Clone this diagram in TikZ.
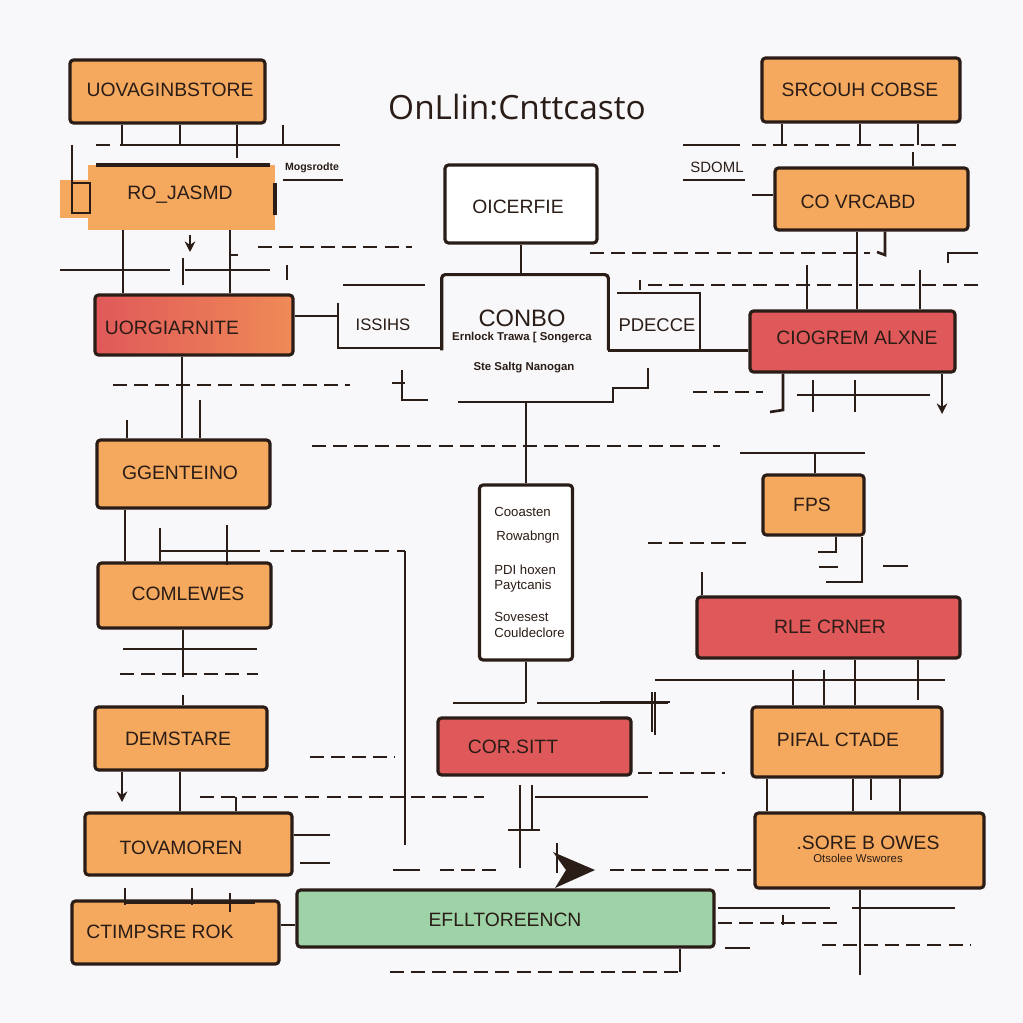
\documentclass[tikz,border=0pt]{standalone}
\usepackage{fontspec}
\setmainfont{Liberation Sans}
\newfontfamily\titlefont{Open Sans}
\usetikzlibrary{arrows.meta}
\definecolor{bg}{HTML}{F8F8FA}
\definecolor{ink}{HTML}{2A1C16}
\definecolor{orng}{HTML}{F5A95E}
\definecolor{rd}{HTML}{E0595A}
\definecolor{rdor}{HTML}{EF8A56}
\definecolor{grn}{HTML}{9DD3A6}
\begin{document}
\begin{tikzpicture}[x=0.02cm,y=-0.02cm,
 box/.style={draw=ink,line width=1.8pt,rounded corners=2pt,inner sep=0pt},
 obox/.style={box,fill=orng},
 rbox/.style={box,fill=rd},
 wbox/.style={box,fill=white},
 gbox/.style={box,fill=grn},
 lab/.style={text=ink,inner sep=0pt,font=\fontsize{11}{13}\selectfont},
 sm/.style={text=ink,inner sep=0pt,font=\fontsize{6.5}{8}\selectfont},
 ln/.style={draw=ink,line width=1.5pt},
 dl/.style={ln,dash pattern=on 8pt off 4pt},
 arr/.style={ln,-{Stealth[length=6pt,width=6pt]}},
]
\fill[bg] (0,0) rectangle (1023,1023);
\useasboundingbox (0,0) rectangle (1023,1023);

% ---------- title
\node[text=ink,inner sep=0pt,font=\titlefont\fontsize{19}{22}\selectfont] (title) at (517,107) {OnLlin:Cnttcasto};

% ---------- left column boxes
\node[obox,minimum width=3.9cm,minimum height=1.26cm] (b1) at (167.5,91.5) {};
\node[lab] (b1t) at (170,90) {UOVAGINBSTORE};

\fill[orng] (60,180) rectangle (92,218);
\node[fill=orng,inner sep=0pt,minimum width=3.74cm,minimum height=1.3cm] (b2) at (181.5,197.5) {};
\draw[ln,line width=1.8pt] (96,165) -- (270,165);
\draw[ln,line width=1.8pt] (275,183) -- (275,215);
\draw[ln] (72,183) rectangle (90,213);
\node[lab] (b2t) at (180,195) {RO\_JASMD};

\node[box,left color=rd,right color=rdor,minimum width=3.96cm,minimum height=1.2cm] (b3) at (194,325) {};
\node[lab] (b3t) at (172,328) {UORGIARNITE};

\node[obox,minimum width=3.46cm,minimum height=1.36cm] (b4) at (183.5,474) {};
\node[lab] (b4t) at (180,473) {GGENTEINO};

\node[obox,minimum width=3.46cm,minimum height=1.3cm] (b5) at (184.5,595.5) {};
\node[lab] (b5t) at (188,594) {COMLEWES};

\node[obox,minimum width=3.44cm,minimum height=1.26cm] (b6) at (181,738.5) {};
\node[lab] (b6t) at (178,739) {DEMSTARE};

\node[obox,minimum width=4.14cm,minimum height=1.24cm] (b7) at (188.5,844) {};
\node[lab] (b7t) at (181,848) {TOVAMOREN};

\node[obox,minimum width=4.14cm,minimum height=1.26cm] (b8) at (175.5,932.5) {};
\node[lab] (b8t) at (160,932) {CTIMPSRE ROK};

% ---------- centre
\node[wbox,minimum width=3.04cm,minimum height=1.56cm] (oic) at (521,204) {};
\node[lab] (oict) at (518,207) {OICERFIE};

\node[inner sep=0pt,minimum width=3.32cm,minimum height=1.5cm] (conbo) at (525,312.5) {};
\draw[ln,line width=1.8pt,rounded corners=2pt] (conbo.south west) -- (conbo.north west) -- (conbo.north east) -- (conbo.south east);
\node[text=ink,inner sep=0pt,font=\fontsize{13.5}{15}\selectfont] (conbot) at (522,318) {CONBO};
\node[sm,font=\bfseries\fontsize{6.5}{8}\selectfont] (conbos) at (522,338) {Ernlock Trawa [ Songerca};
\node[sm,font=\bfseries\fontsize{6.5}{8}\selectfont] (conbos2) at (524,368) {Ste Saltg Nanogan};

\node[lab,font=\fontsize{9.5}{11}\selectfont] (iss) at (383,325) {ISSIHS};
\node[lab,font=\fontsize{10.5}{12}\selectfont] (pdec) at (657,325) {PDECCE};

\node[wbox,minimum width=1.86cm,minimum height=3.5cm] (t1) at (526,572.5) {};
\node[sm,font=\fontsize{7.5}{9}\selectfont,anchor=west] (t1a) at (494,512) {Cooasten};
\node[sm,font=\fontsize{7.5}{9}\selectfont,anchor=west] (t1b) at (496,537) {Rowabngn};
\node[sm,font=\fontsize{7.5}{9}\selectfont,anchor=west] (t1c) at (494,570) {PDI hoxen};
\node[sm,font=\fontsize{7.5}{9}\selectfont,anchor=west] (t1d) at (494,586) {Paytcanis};
\node[sm,font=\fontsize{7.5}{9}\selectfont,anchor=west] (t1e) at (494,617) {Sovesest};
\node[sm,font=\fontsize{7.5}{9}\selectfont,anchor=west] (t1f) at (494,633) {Couldeclore};

\node[rbox,minimum width=3.86cm,minimum height=1.14cm] (cor) at (534.5,746.5) {};
\node[lab] (cort) at (513,747) {COR.SITT};

\node[gbox,minimum width=8.34cm,minimum height=1.14cm] (grn) at (505.5,918.5) {};
\node[lab] (grnt) at (505,920) {EFLLTOREENCN};

% ---------- right column
\node[obox,minimum width=3.96cm,minimum height=1.28cm] (src) at (861,90) {};
\node[lab] (srct) at (860,90) {SRCOUH COBSE};

\node[obox,minimum width=3.86cm,minimum height=1.24cm] (co) at (871.5,199) {};
\node[lab] (cot) at (858,202) {CO VRCABD};

\node[rbox,minimum width=4.1cm,minimum height=1.22cm] (cio) at (852.5,341.5) {};
\node[lab] (ciot) at (857,338) {CIOGREM ALXNE};

\node[obox,minimum width=2.02cm,minimum height=1.2cm] (fps) at (813.5,505) {};
\node[lab] (fpst) at (812,505) {FPS};

\node[rbox,minimum width=5.26cm,minimum height=1.22cm] (rle) at (828.5,627.5) {};
\node[lab] (rlet) at (830,627) {RLE CRNER};

\node[obox,minimum width=3.8cm,minimum height=1.4cm] (pif) at (847,742) {};
\node[lab] (pift) at (838,740) {PIFAL CTADE};

\node[obox,minimum width=4.58cm,minimum height=1.5cm] (sore) at (869.5,850.5) {};
\node[lab] (soret) at (868,843) {.SORE B OWES};
\node[sm] (sores) at (858,858) {Otsolee Wswores};

\node[lab,font=\fontsize{8.5}{10}\selectfont] (sdoml) at (717,167) {SDOML};
\node[sm,font=\bfseries\fontsize{6}{7}\selectfont] (mog) at (312,168) {Mogsrodte};

% ---------- connectors, top left
\draw[ln] (96,145) -- (110,145);
\draw[ln] (120,145) -- (340,145);
\foreach \xx in {122,180,283} \draw[ln] (\xx,0 |- b1.south) -- (\xx,145);
\draw[ln] (237,0 |- b1.south) -- (237,158);
\draw[ln] (72,145) -- (72,213);
\draw[ln] (283,180) -- (343,180);
\draw[ln] (123,0 |- b2.south) -- (123,0 |- b3.north);
\draw[ln] (230,0 |- b2.south) -- (230,0 |- b3.north);
\draw[ln] (230,255) -- (238,255);
\draw[arr] (190,235) -- (190,252);
\draw[ln] (183,258) -- (183,285);
\draw[ln] (60,270) -- (170,270);
\draw[ln] (185,270) -- (270,270);
\draw[ln] (287,265) -- (287,280);
\draw[dl] (258,247) -- (412,247);

% ISSIHS / CONBO / PDECCE
\draw[ln] (b3.east |- 0,316) -- (338,316);
\draw[ln] (343,285) -- (425,285);
\draw[ln] (338,303) -- (338,348) -- (conbo.south west |- 0,348);
\draw[ln] (oic.south) -- (oic.south |- conbo.north);
\draw[ln] (458,402) -- (613,402) -- (613,388) -- (648,388) -- (648,368);
\draw[ln] (392,383) -- (405,383);
\draw[ln] (402,370) -- (402,400) -- (428,400);
\draw[ln] (617,293) -- (700,293) -- (700,352);
\draw[ln] (conbo.south east) -- (cio.west |- conbo.south east);
\draw[ln] (640,280) -- (640,290);
\draw[dl] (648,285) -- (978,285);
\draw[ln] (t1.north) -- (t1.north |- 0,402);

% middle bands
\draw[dl] (113,385) -- (350,385);
\draw[ln] (182,0 |- b3.south) -- (182,0 |- b4.north);
\draw[ln] (200,400) -- (200,0 |- b4.north);
\draw[ln] (127,420) -- (127,0 |- b4.north);
\draw[dl] (312,446) -- (720,446);

% right top
\draw[ln] (683,145) -- (740,145);
\draw[dl] (752,145) -- (960,145);
\foreach \xx in {782,860,918} \draw[ln] (\xx,0 |- src.south) -- (\xx,145);
\draw[ln] (913,152) -- (913,0 |- co.north);
\draw[ln] (683,180) -- (745,180);
\draw[ln] (752,195) -- (co.west |- 0,195);
\draw[ln] (857,0 |- co.south) -- (857,0 |- cio.north);
\draw[ln] (885,0 |- co.south) -- (885,255) -- (877,252);
\draw[dl] (590,253) -- (870,253);
\draw[ln] (807,265) -- (807,0 |- cio.north);
\draw[ln] (920,270) -- (920,0 |- cio.north);
\draw[ln] (948,263) -- (948,253) -- (978,253);
\draw[ln] (783,0 |- cio.south) -- (783,410) -- (770,412);
\draw[ln] (813,380) -- (813,412);
\draw[ln] (855,380) -- (855,412);
\draw[ln] (797,395) -- (930,395);
\draw[arr] (942,0 |- cio.south) -- (942,414);
\draw[dl] (693,392) -- (763,392);

% FPS / RLE
\draw[ln] (740,453) -- (865,453);
\draw[ln] (815,453) -- (815,0 |- fps.north);
\draw[ln] (836,0 |- fps.south) -- (836,552) -- (818,552);
\draw[ln] (862,0 |- fps.south) -- (862,582) -- (826,582);
\draw[ln] (819,567) -- (838,567);
\draw[ln] (883,566) -- (908,566);
\draw[dl] (648,543) -- (750,543);
\draw[ln] (702,572) -- (702,0 |- rle.north);
\draw[ln] (655,680) -- (945,680);
\draw[ln] (793,670) -- (793,0 |- pif.north);
\draw[ln] (824,670) -- (824,0 |- pif.north);
\draw[ln] (855,0 |- rle.south) -- (855,0 |- pif.north);
\draw[ln] (918,0 |- rle.south) -- (918,700);
\draw[ln] (600,702) -- (670,702);
\draw[ln] (655,692) -- (655,735);

% left middle
\draw[ln] (125,0 |- b4.south) -- (125,0 |- b5.north);
\draw[ln] (160,528) -- (160,0 |- b5.north);
\draw[ln] (227,525) -- (227,565);
\draw[ln] (160,551) -- (260,551);
\draw[dl] (270,551) -- (405,551);
\draw[ln] (405,551) -- (405,845);
\draw[ln] (123,649) -- (257,649);
\draw[dl] (120,674) -- (258,674);
\draw[ln] (183,0 |- b5.south) -- (183,677);
\draw[ln] (183,695) -- (183,0 |- b6.north);

% bottom left
\draw[arr] (122,0 |- b6.south) -- (122,802);
\draw[ln] (180,0 |- b6.south) -- (180,0 |- b7.north);
\draw[ln] (236,797) -- (236,0 |- b7.north);
\draw[dl] (200,797) -- (484,797);
\draw[dl] (310,757) -- (395,757);
\draw[ln] (b7.east |- 0,835) -- (330,835);
\draw[ln] (300,863) -- (330,863);
\draw[ln] (125,903) -- (255,903);
\draw[ln] (125,888) -- (125,905);
\draw[ln] (192,888) -- (192,905);
\draw[ln] (230,893) -- (230,912);
\draw[ln] (b8.east |- 0,925) -- (grn.west |- 0,925);

% bottom centre
\draw[ln] (t1.south) -- (526,703);
\draw[ln] (453,703) -- (525,703);
\draw[ln] (537,703) -- (668,703);
\draw[ln] (652,692) -- (652,732);
\draw[dl] (638,773) -- (725,773);
\draw[ln] (520,785) -- (520,868);
\draw[ln] (532,785) -- (532,830);
\draw[ln] (508,830) -- (540,830);
\draw[ln] (535,797) -- (648,797);
\draw[ln] (393,870) -- (420,870);
\draw[dl] (440,870) -- (497,870);
\draw[ln] (557,843) -- (557,873);
\fill[ink] (553,852) -- (595,870) -- (555,888) -- (566,870) -- cycle;
\draw[dl] (610,870) -- (sore.west |- 0,870);
\draw[ln] (680,0 |- grn.south) -- (680,972);
\draw[dl] (390,972) -- (680,972);

% bottom right
\foreach \xx in {767,853,900} \draw[ln] (\xx,0 |- pif.south) -- (\xx,0 |- sore.north);
\draw[ln] (871,0 |- pif.south) -- (871,800);
\draw[ln] (860,0 |- sore.south) -- (860,975);
\draw[ln] (718,908) -- (830,908);
\draw[ln] (852,908) -- (955,908);
\draw[dl] (718,923) -- (840,923);
\draw[ln] (783,915) -- (783,925);
\draw[dl] (822,945) -- (970,945);
\draw[ln] (725,948) -- (750,948);
\end{tikzpicture}
\end{document}
